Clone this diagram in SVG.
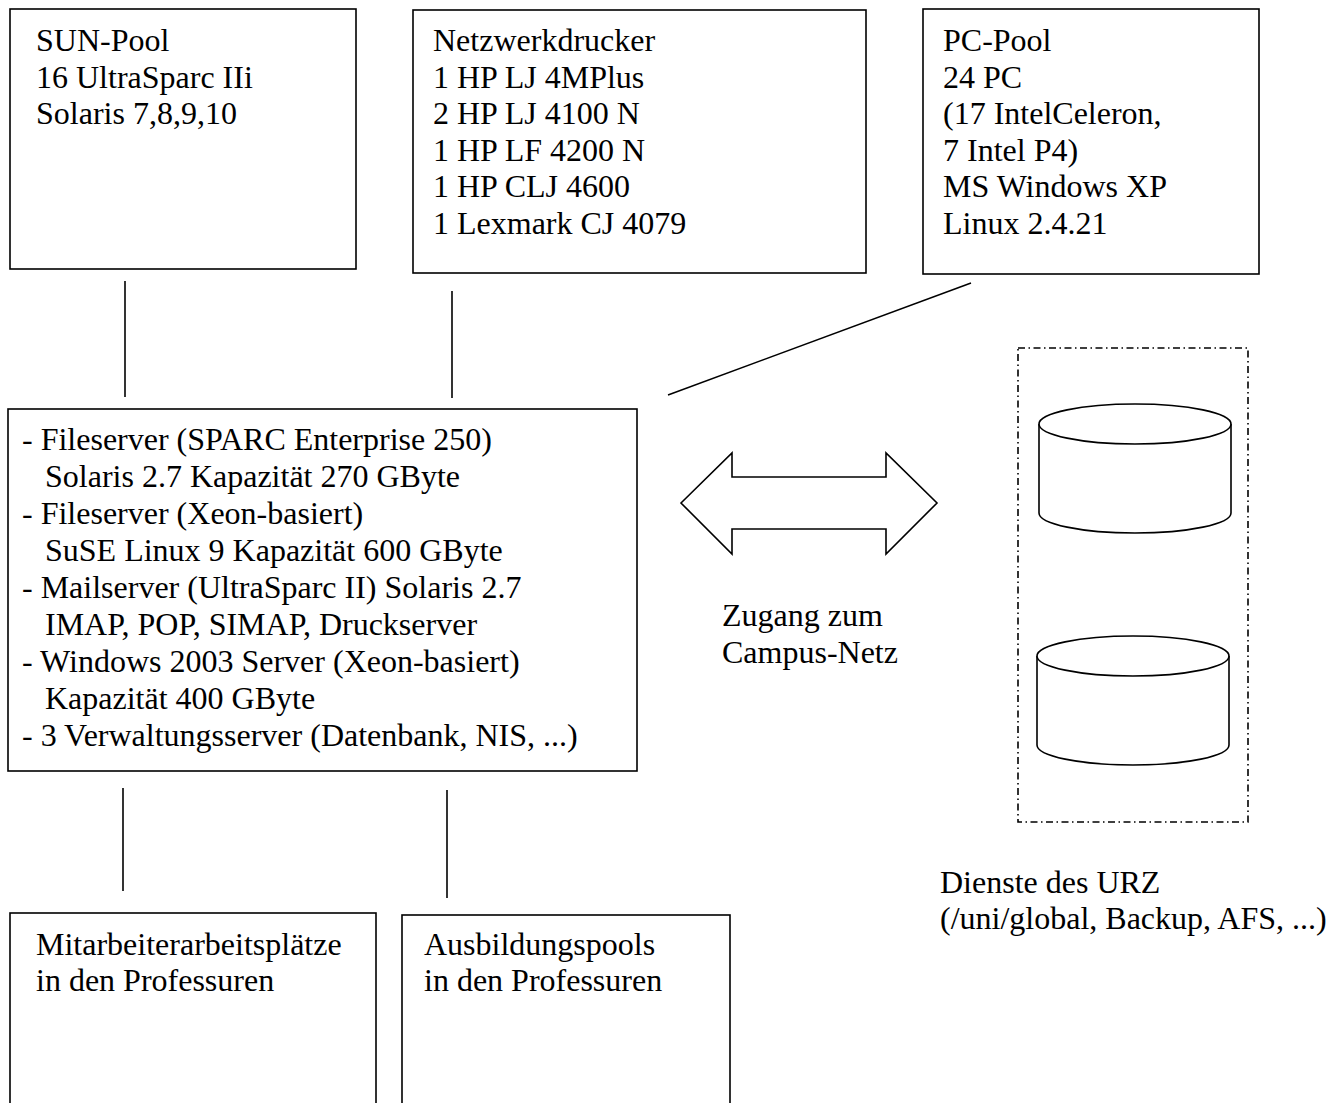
<svg xmlns="http://www.w3.org/2000/svg" width="1343" height="1103" viewBox="0 0 1343 1103">
<style>
text{font-family:"Liberation Serif","Times New Roman",serif;font-size:32px;fill:#000}
.box{fill:#fff;stroke:#000;stroke-width:1.6}
.ln{stroke:#000;stroke-width:1.6;fill:none}
.cyl{fill:#fff;stroke:#000;stroke-width:1.6}
</style>
<rect width="1343" height="1103" fill="#fff"/>
<g id="connectors">
<line class="ln" x1="125" y1="281" x2="125" y2="397"/>
<line class="ln" x1="452" y1="291" x2="452" y2="398"/>
<line class="ln" x1="971" y1="283" x2="668" y2="395"/>
<line class="ln" x1="123" y1="788" x2="123" y2="891"/>
<line class="ln" x1="447" y1="790" x2="447" y2="898"/>
<path id="campus-arrow" class="ln" d="M681,503 L732,453 L732,477 L886,477 L886,453 L937,503 L886,554 L886,529 L732,529 L732,554 Z"/>
</g>
<g id="sun-pool">
<rect class="box" x="10" y="9" width="346" height="260"/>
<text x="36" y="51">SUN-Pool</text>
<text x="36" y="87.5">16 UltraSparc IIi</text>
<text x="36" y="124">Solaris 7,8,9,10</text>
</g>
<g id="netzwerkdrucker">
<rect class="box" x="413" y="10" width="453" height="263"/>
<text x="433" y="51">Netzwerkdrucker</text>
<text x="433" y="87.5">1 HP LJ 4MPlus</text>
<text x="433" y="124">2 HP LJ 4100 N</text>
<text x="433" y="160.5">1 HP LF 4200 N</text>
<text x="433" y="197">1 HP CLJ 4600</text>
<text x="433" y="233.5">1 Lexmark CJ 4079</text>
</g>
<g id="pc-pool">
<rect class="box" x="923" y="9" width="336" height="265"/>
<text x="943" y="51">PC-Pool</text>
<text x="943" y="87.5">24 PC</text>
<text x="943" y="124">(17 IntelCeleron,</text>
<text x="943" y="160.5">7 Intel P4)</text>
<text x="943" y="197">MS Windows XP</text>
<text x="943" y="233.5">Linux 2.4.21</text>
</g>
<g id="server">
<rect class="box" x="8" y="409" width="629" height="362"/>
<text x="22" y="450">- Fileserver (SPARC Enterprise 250)</text>
<text x="45" y="487">Solaris 2.7 Kapazität 270 GByte</text>
<text x="22" y="524">- Fileserver (Xeon-basiert)</text>
<text x="45" y="561">SuSE Linux 9 Kapazität 600 GByte</text>
<text x="22" y="598">- Mailserver (UltraSparc II) Solaris 2.7</text>
<text x="45" y="635">IMAP, POP, SIMAP, Druckserver</text>
<text x="22" y="672">- Windows 2003 Server (Xeon-basiert)</text>
<text x="45" y="709">Kapazität 400 GByte</text>
<text x="22" y="746">- 3 Verwaltungsserver (Datenbank, NIS, ...)</text>
</g>
<g id="campus-label">
<text x="722" y="626">Zugang zum</text>
<text x="722" y="663">Campus-Netz</text>
</g>
<g id="urz">
<rect x="1018" y="348" width="230" height="474" fill="none" stroke="#000" stroke-width="1.6" stroke-dasharray="7 3.5 1.5 3.5"/>
<path class="cyl" d="M1039,424 L1039,513 A96,20 0 0 0 1231,513 L1231,424"/>
<ellipse class="cyl" cx="1135" cy="424" rx="96" ry="20"/>
<path class="cyl" d="M1037,656 L1037,745 A96,20 0 0 0 1229,745 L1229,656"/>
<ellipse class="cyl" cx="1133" cy="656" rx="96" ry="20"/>
<text x="940" y="893">Dienste des URZ</text>
<text x="940" y="929">(/uni/global, Backup, AFS, ...)</text>
</g>
<g id="mitarbeiter">
<rect class="box" x="10" y="913" width="366" height="200"/>
<text x="36" y="955">Mitarbeiterarbeitsplätze</text>
<text x="36" y="991">in den Professuren</text>
</g>
<g id="ausbildung">
<rect class="box" x="402" y="915" width="328" height="200"/>
<text x="424" y="955">Ausbildungspools</text>
<text x="424" y="991">in den Professuren</text>
</g>
</svg>
